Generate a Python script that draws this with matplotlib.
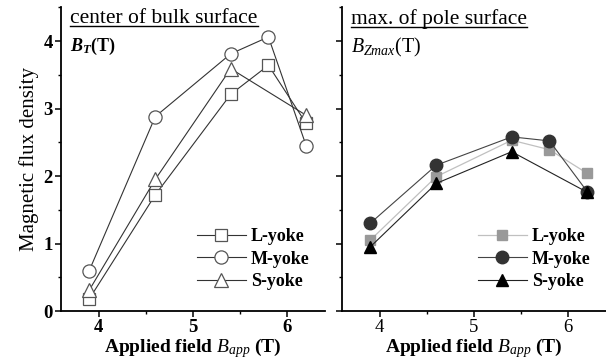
import matplotlib
matplotlib.use('Agg')
import matplotlib.pyplot as plt
from matplotlib.ticker import MultipleLocator
from matplotlib.lines import Line2D

plt.rcParams['font.family'] = ['Liberation Serif', 'DejaVu Serif']
plt.rcParams['mathtext.fontset'] = 'custom'
plt.rcParams['mathtext.rm'] = 'Liberation Serif'
plt.rcParams['mathtext.it'] = 'Liberation Serif:italic'
plt.rcParams['mathtext.bf'] = 'Liberation Serif:bold'
plt.rcParams['mathtext.bfit'] = 'Liberation Serif:bold:italic'

# data
field = [3.9, 4.6, 5.4, 5.8, 6.2]
field_s = [3.9, 4.6, 5.4, 6.2]

bt_l = [0.18, 1.72, 3.21, 3.64, 2.78]
bt_m = [0.60, 2.88, 3.81, 4.06, 2.45]
bt_s = [0.31, 1.95, 3.59, 2.90]

bz_l = [1.05, 1.99, 2.53, 2.39, 2.04]
bz_m = [1.30, 2.16, 2.58, 2.52, 1.77]
bz_s = [0.95, 1.89, 2.36, 1.76]

labels = ['L-yoke', 'M-yoke', 'S-yoke']

fig = plt.figure(figsize=(6.06, 3.61), dpi=100)
ax1 = fig.add_axes([61/606, 0.1385, 264/606, 0.8414])
ax2 = fig.add_axes([342/606, 0.1385, 264/606, 0.8414])

# left panel: open markers
ax1.plot(field, bt_l, color='#333333', lw=0.8, marker='s', ms=8,
         mfc='white', mec='#555555', mew=0.9, label=labels[0])
ax1.plot(field, bt_m, color='#333333', lw=0.8, marker='o', ms=9.5,
         mfc='white', mec='#555555', mew=0.9, label=labels[1])
ax1.plot(field_s, bt_s, color='#333333', lw=0.8, marker='^', ms=9.5,
         mfc='white', mec='#555555', mew=0.9, label=labels[2])

# right panel: filled markers
ax2.plot(field, bz_l, color='#c0c0c0', lw=0.9, marker='s', ms=7.5,
         mfc='#999999', mec='#999999', label=labels[0])
ax2.plot(field, bz_m, color='#444444', lw=0.8, marker='o', ms=9,
         mfc='#333333', mec='#333333', label=labels[1])
ax2.plot(field_s, bz_s, color='#222222', lw=0.8, marker='^', ms=9,
         mfc='black', mec='black', label=labels[2])

for ax in (ax1, ax2):
    ax.set_xlim(3.6, 6.4)
    ax.set_ylim(0, 4.5)
    ax.spines['top'].set_visible(False)
    ax.spines['right'].set_visible(False)
    ax.spines['left'].set_linewidth(1.3)
    ax.spines['bottom'].set_linewidth(1.3)
    ax.xaxis.set_major_locator(MultipleLocator(1))
    ax.xaxis.set_minor_locator(MultipleLocator(0.5))
    ax.yaxis.set_major_locator(MultipleLocator(1))
    ax.yaxis.set_minor_locator(MultipleLocator(0.5))
    ax.tick_params(which='major', direction='out', length=4, width=1.1,
                   labelsize=13.5, pad=2)
    ax.tick_params(which='minor', direction='out', length=2.5, width=1.0)
    ax.set_xlabel(r'Applied field $\mathit{B}_{\mathit{app}}$ (T)',
                  fontsize=14, fontweight='bold', labelpad=0)
    leg = ax.legend(loc='lower right', bbox_to_anchor=(0.97, 0.045),
                    frameon=False, fontsize=13,
                    handlelength=2.7, handletextpad=0.3, labelspacing=0.3,
                    borderaxespad=0.2, borderpad=0.2)
    for t in leg.get_texts():
        t.set_fontweight('bold')

for t in ax1.get_xticklabels() + ax1.get_yticklabels():
    t.set_fontweight('bold')
ax2.tick_params(axis='y', labelleft=False)

ax1.set_ylabel('Magnetic flux density', fontsize=15, labelpad=3)

t1 = ax1.text(0.035, 0.995, 'center of bulk surface', transform=ax1.transAxes,
              fontsize=15.5, va='top', ha='left')
ax1.text(0.035, 0.905, r'$\mathbfit{B}_{\mathbfit{T}}$(T)', transform=ax1.transAxes,
         fontsize=13, va='top', ha='left', fontweight='bold')
t2 = ax2.text(0.035, 0.995, 'max. of pole surface', transform=ax2.transAxes,
              fontsize=15.5, va='top', ha='left')
ax2.text(0.035, 0.905, r'$\mathit{B}_{\mathit{Zmax}}$(T)', transform=ax2.transAxes,
         fontsize=14.3, va='top', ha='left')

# underline the panel titles
fig.canvas.draw()
inv = fig.transFigure.inverted()
for t in (t1, t2):
    bb = t.get_window_extent()
    (x0, y0), (x1, _) = inv.transform([[bb.x0, bb.y0], [bb.x1, bb.y1]])
    fig.add_artist(Line2D([x0, x1], [y0 + 0.004, y0 + 0.004], color='black', lw=1.0))

fig.savefig('out.png', dpi=100)
